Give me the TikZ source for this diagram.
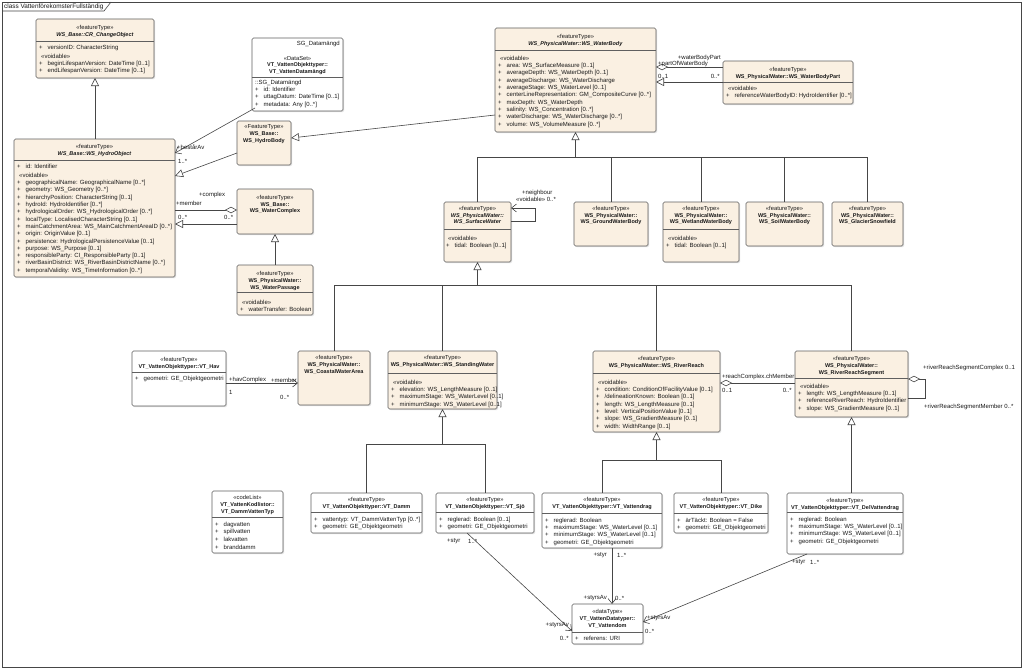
\documentclass[tikz,border=0pt]{standalone}
\usepackage{fontspec}
\setmainfont{Liberation Sans}
\usetikzlibrary{arrows.meta,calc,shadows}
\definecolor{beige}{RGB}{250,240,226}
\definecolor{bordc}{RGB}{95,95,95}
\definecolor{linec}{RGB}{70,70,70}
\definecolor{txtc}{RGB}{25,25,25}
\newcommand\fsz{\fontsize{6pt}{7.3pt}\selectfont}
\newcommand\hfsz{\fontsize{5.8pt}{6.9pt}\selectfont}
\newcommand\bn[1]{{\fontsize{5.5pt}{6.9pt}\selectfont\textbf{#1}}}
\newcommand\bni[1]{{\fontsize{5.5pt}{6.9pt}\selectfont\textbf{\textit{#1}}}}
\newcommand\attrplus{\makebox[8.5pt][l]{+}}
\newcommand\voidl{\hspace*{2pt}«voidable»}
\begin{document}
\begin{tikzpicture}[x=1pt,y=-1pt,
 cls/.style={draw=bordc,line width=0.6pt,rounded corners=1.5pt,inner sep=0pt,outer sep=0pt,anchor=north west,
   drop shadow={shadow xshift=1.2pt,shadow yshift=-1.2pt,fill=black,opacity=0.12}},
 bg/.style={cls,fill=beige},
 wh/.style={cls,fill=white},
 hd/.style={font=\hfsz,align=center,inner sep=0pt,anchor=north,text=txtc},
 atr/.style={font=\fsz,align=left,inner sep=0pt,anchor=north west,text=txtc},
 lb/.style={font=\fsz,inner sep=0pt,text=txtc},
 sepl/.style={draw=bordc,line width=0.6pt},
 conn/.style={draw=linec,line width=0.6pt},
 gen/.style={conn,-{Triangle[open,length=8pt,width=8pt,fill=white]}},
 nav/.style={conn,-{Straight Barb[length=5pt,width=8pt]}},
 agg/.style={conn,{Diamond[open,length=12pt,width=6.5pt,fill=white]}-},
]
\useasboundingbox (0,0) rectangle (1024,669);
\fill[white] (0,0) rectangle (1024,669);
% frame
\draw[conn] (2,2) rectangle (1021,667);
\draw[conn] (2,11) -- (104,11) -- (111,2);
\node[lb,anchor=west,font=\fontsize{6.4pt}{7pt}\selectfont] (title) at (4,6.5) {class VattenförekomsterFullständig};

% CR_ChangeObject
\node[bg,minimum width=118pt,minimum height=59pt] (CR) at (36,19) {};
\node[hd] (CRh) at ($(CR.north)+(0,5.8)$) {«featureType»\\\bni{WS\_Base::CR\_ChangeObject}};
\draw[sepl] ($(CR.north west)+(0,22)$) -- ($(CR.north east)+(0,22)$);
\node[atr] (CRa) at (39,44.8) {\attrplus versionID: CharacterString};
\node[atr] (CRb) at (39,53.8) {\voidl\\\attrplus beginLifespanVersion: DateTime [0..1]\\\attrplus endLifespanVersion: DateTime [0..1]};

% VT_VattenDatamangd
\node[wh,minimum width=91pt,minimum height=73pt] (VDm) at (252,38) {};
\node[atr,anchor=north east] (VDmc) at ($(VDm.north east)+(-3,2.8)$) {SG\_Datamängd};
\node[hd] (VDmh) at ($(VDm.north)+(0,17.8)$) {«DataSet»\\\bn{VT\_VattenObjekttyper::}\\\bn{VT\_VattenDatamängd}};
\draw[sepl] ($(VDm.north west)+(0,39)$) -- ($(VDm.north east)+(0,39)$);
\node[atr] (VDma) at (255,79.8) {::SG\_Datamängd\\\attrplus id: Identifier\\\attrplus uttagDatum: DateTime [0..1]\\\attrplus metadata: Any [0..*]};

% WS_WaterBody
\node[bg,minimum width=161pt,minimum height=104pt] (WB) at (495,28) {};
\node[hd] (WBh) at ($(WB.north)+(0,5.8)$) {«featureType»\\\bni{WS\_PhysicalWater::WS\_WaterBody}};
\draw[sepl] ($(WB.north west)+(0,22)$) -- ($(WB.north east)+(0,22)$);
\node[atr] (WBa) at (498,55.8) {\voidl\\
\attrplus area: WS\_SurfaceMeasure [0..1]\\
\attrplus averageDepth: WS\_WaterDepth [0..1]\\
\attrplus averageDischarge: WS\_WaterDischarge\\
\attrplus averageStage: WS\_WaterLevel [0..1]\\
\attrplus centerLineRepresentation: GM\_CompositeCurve [0..*]\\
\attrplus maxDepth: WS\_WaterDepth\\
\attrplus salinity: WS\_Concentration [0..*]\\
\attrplus waterDischarge: WS\_WaterDischarge [0..*]\\
\attrplus volume: WS\_VolumeMeasure [0..*]};

% WS_WaterBodyPart
\node[bg,minimum width=130pt,minimum height=43pt] (WBP) at (723,61) {};
\node[hd] (WBPh) at ($(WBP.north)+(0,5.8)$) {«featureType»\\\bn{WS\_PhysicalWater::WS\_WaterBodyPart}};
\draw[sepl] ($(WBP.north west)+(0,21)$) -- ($(WBP.north east)+(0,21)$);
\node[atr] (WBPa) at (726,85.8) {\voidl\\\attrplus referenceWaterBodyID: HydroIdentifier [0..*]};

% WS_HydroObject
\node[bg,minimum width=161pt,minimum height=138pt] (HO) at (14,139) {};
\node[hd] (HOh) at ($(HO.north)+(0,4.8)$) {«featureType»\\\bni{WS\_Base::WS\_HydroObject}};
\draw[sepl] ($(HO.north west)+(0,21)$) -- ($(HO.north east)+(0,21)$);
\node[atr] (HOa) at (17,163.8) {\attrplus id: Identifier};
\node[atr] (HOb) at (17,172.8) {\voidl\\
\attrplus geographicalName: GeographicalName [0..*]\\
\attrplus geometry: WS\_Geometry [0..*]\\
\attrplus hierarchyPosition: CharacterString [0..1]\\
\attrplus hydroId: HydroIdentifier [0..*]\\
\attrplus hydrologicalOrder: WS\_HydrologicalOrder [0..*]\\
\attrplus localType: LocalisedCharacterString [0..1]\\
\attrplus mainCatchmentArea: WS\_MainCatchmentAreaID [0..*]\\
\attrplus origin: OriginValue [0..1]\\
\attrplus persistence: HydrologicalPersistenceValue [0..1]\\
\attrplus purpose: WS\_Purpose [0..1]\\
\attrplus responsibleParty: CI\_ResponsibleParty [0..1]\\
\attrplus riverBasinDistrict: WS\_RiverBasinDistrictName [0..*]\\
\attrplus temporalValidity: WS\_TimeInformation [0..*]};

% WS_HydroBody
\node[bg,minimum width=54pt,minimum height=44pt] (HB) at (237,121) {};
\node[hd] (HBh) at ($(HB.north)+(0,3.8)$) {«FeatureType»\\\bn{WS\_Base::}\\\bn{WS\_HydroBody}};

% WS_WaterComplex
\node[bg,minimum width=76pt,minimum height=45pt] (WC) at (237,189) {};
\node[hd] (WCh) at ($(WC.north)+(0,5.8)$) {«featureType»\\\bn{WS\_Base::}\\\bn{WS\_WaterComplex}};

% WS_WaterPassage
\node[bg,minimum width=76pt,minimum height=50pt] (WP) at (237,265) {};
\node[hd] (WPh) at ($(WP.north)+(0,5.8)$) {«featureType»\\\bn{WS\_PhysicalWater::}\\\bn{WS\_WaterPassage}};
\draw[sepl] ($(WP.north west)+(0,27)$) -- ($(WP.north east)+(0,27)$);
\node[atr] (WPa) at (240,299.8) {\voidl\\\attrplus waterTransfer: Boolean};

% WS_SurfaceWater
\node[bg,minimum width=67pt,minimum height=60pt] (SW) at (444,202) {};
\node[hd] (SWh) at ($(SW.north)+(0,3.8)$) {«featureType»\\\bni{WS\_PhysicalWater::}\\\bni{WS\_SurfaceWater}};
\draw[sepl] ($(SW.north west)+(0,27)$) -- ($(SW.north east)+(0,27)$);
\node[atr] (SWa) at (446,235.8) {\voidl\\\attrplus tidal: Boolean [0..1]};

% GroundWaterBody
\node[bg,minimum width=74pt,minimum height=44pt] (GWB) at (574,202) {};
\node[hd] (GWBh) at ($(GWB.north)+(0,3.8)$) {«featureType»\\\bn{WS\_PhysicalWater::}\\\bn{WS\_GroundWaterBody}};

% WetlandWaterBody
\node[bg,minimum width=76pt,minimum height=60pt] (WWB) at (663,202) {};
\node[hd] (WWBh) at ($(WWB.north)+(0,3.8)$) {«featureType»\\\bn{WS\_PhysicalWater::}\\\bn{WS\_WetlandWaterBody}};
\draw[sepl] ($(WWB.north west)+(0,27)$) -- ($(WWB.north east)+(0,27)$);
\node[atr] (WWBa) at (666,235.8) {\voidl\\\attrplus tidal: Boolean [0..1]};

% SoilWaterBody
\node[bg,minimum width=77pt,minimum height=44pt] (SWB) at (746,202) {};
\node[hd] (SWBh) at ($(SWB.north)+(0,3.8)$) {«featureType»\\\bn{WS\_PhysicalWater::}\\\bn{WS\_SoilWaterBody}};

% GlacierSnowfield
\node[bg,minimum width=71pt,minimum height=44pt] (GS) at (832,202) {};
\node[hd] (GSh) at ($(GS.north)+(0,3.8)$) {«featureType»\\\bn{WS\_PhysicalWater::}\\\bn{WS\_GlacierSnowfield}};

% VT_Hav
\node[wh,minimum width=94pt,minimum height=55pt] (Hav) at (132,351) {};
\node[hd] (Havh) at ($(Hav.north)+(0,5.8)$) {«featureType»\\\bn{VT\_VattenObjekttyper::VT\_Hav}};
\draw[sepl] ($(Hav.north west)+(0,21)$) -- ($(Hav.north east)+(0,21)$);
\node[atr] (Hava) at (135,375.8) {\attrplus geometri: GE\_Objektgeometri};

% CoastalWaterArea
\node[bg,minimum width=72pt,minimum height=54pt] (CW) at (298,351) {};
\node[hd] (CWh) at ($(CW.north)+(0,3.8)$) {«featureType»\\\bn{WS\_PhysicalWater::}\\\bn{WS\_CoastalWaterArea}};

% StandingWater
\node[bg,minimum width=109pt,minimum height=58pt] (SWa) at (388,351) {};
\node[hd] (SWah) at ($(SWa.north)+(0,3.8)$) {«featureType»\\\bn{WS\_PhysicalWater::WS\_StandingWater}};
\draw[sepl] ($(SWa.north west)+(0,22)$) -- ($(SWa.north east)+(0,22)$);
\node[atr] (SWaa) at (391,379.8) {\voidl\\
\attrplus elevation: WS\_LengthMeasure [0..1]\\
\attrplus maximumStage: WS\_WaterLevel [0..1]\\
\attrplus minimumStage: WS\_WaterLevel [0..1]};

% RiverReach
\node[bg,minimum width=127pt,minimum height=81pt] (RR) at (593,351) {};
\node[hd] (RRh) at ($(RR.north)+(0,4.8)$) {«featureType»\\\bn{WS\_PhysicalWater::WS\_RiverReach}};
\draw[sepl] ($(RR.north west)+(0,22)$) -- ($(RR.north east)+(0,22)$);
\node[atr] (RRa) at (596,379.8) {\voidl\\
\attrplus condition: ConditionOfFacilityValue [0..1]\\
\attrplus /delineationKnown: Boolean [0..1]\\
\attrplus length: WS\_LengthMeasure [0..1]\\
\attrplus level: VerticalPositionValue [0..1]\\
\attrplus slope: WS\_GradientMeasure [0..1]\\
\attrplus width: WidthRange [0..1]};

% RiverReachSegment
\node[bg,minimum width=113pt,minimum height=66pt] (RRS) at (795,351) {};
\node[hd] (RRSh) at ($(RRS.north)+(0,4.8)$) {«featureType»\\\bn{WS\_PhysicalWater::}\\\bn{WS\_RiverReachSegment}};
\draw[sepl] ($(RRS.north west)+(0,27)$) -- ($(RRS.north east)+(0,27)$);
\node[atr] (RRSa) at (798,383.8) {\voidl\\
\attrplus length: WS\_LengthMeasure [0..1]\\
\attrplus referenceRiverReach: HydroIdentifier\\
\attrplus slope: WS\_GradientMeasure [0..1]};

% CodeList
\node[wh,minimum width=71pt,minimum height=62pt] (CL) at (212,491) {};
\node[hd] (CLh) at ($(CL.north)+(0,3.8)$) {«codeList»\\\bn{VT\_VattenKodlistor::}\\\bn{VT\_DammVattenTyp}};
\draw[sepl] ($(CL.north west)+(0,26)$) -- ($(CL.north east)+(0,26)$);
\node[atr,font=\fontsize{6pt}{7.6pt}\selectfont] (CLa) at (215,521.8) {\attrplus dagvatten\\\attrplus spillvatten\\\attrplus lakvatten\\\attrplus branddamm};

% VT_Damm
\node[wh,minimum width=111pt,minimum height=40pt] (DA) at (311,493) {};
\node[hd] (DAh) at ($(DA.north)+(0,3.8)$) {«featureType»\\\bn{VT\_VattenObjekttyper::VT\_Damm}};
\draw[sepl] ($(DA.north west)+(0,19)$) -- ($(DA.north east)+(0,19)$);
\node[atr] (DAa) at (314,516.8) {\attrplus vattentyp: VT\_DammVattenTyp [0..*]\\\attrplus geometri: GE\_Objektgeometri};

% VT_Sjo
\node[wh,minimum width=98pt,minimum height=40pt] (SJ) at (436,493) {};
\node[hd] (SJh) at ($(SJ.north)+(0,3.8)$) {«featureType»\\\bn{VT\_VattenObjekttyper::VT\_Sjö}};
\draw[sepl] ($(SJ.north west)+(0,19)$) -- ($(SJ.north east)+(0,19)$);
\node[atr] (SJa) at (439,516.8) {\attrplus reglerad: Boolean [0..1]\\\attrplus geometri: GE\_Objektgeometri};

% VT_Vattendrag
\node[wh,minimum width=120pt,minimum height=55pt] (VT) at (542,493) {};
\node[hd] (VTh) at ($(VT.north)+(0,3.8)$) {«featureType»\\\bn{VT\_VattenObjekttyper::VT\_Vattendrag}};
\draw[sepl] ($(VT.north west)+(0,20)$) -- ($(VT.north east)+(0,20)$);
\node[atr] (VTa) at (545,517.8) {\attrplus reglerad: Boolean\\
\attrplus maximumStage: WS\_WaterLevel [0..1]\\
\attrplus minimumStage: WS\_WaterLevel [0..1]\\
\attrplus geometri: GE\_Objektgeometri};

% VT_Dike
\node[wh,minimum width=94pt,minimum height=40pt] (DI) at (674,493) {};
\node[hd] (DIh) at ($(DI.north)+(0,3.8)$) {«featureType»\\\bn{VT\_VattenObjekttyper::VT\_Dike}};
\draw[sepl] ($(DI.north west)+(0,20)$) -- ($(DI.north east)+(0,20)$);
\node[atr] (DIa) at (677,517.8) {\attrplus ärTäckt: Boolean = False\\\attrplus geometri: GE\_Objektgeometri};

% VT_DelVattendrag
\node[wh,minimum width=116pt,minimum height=61pt] (DV) at (787,493) {};
\node[hd] (DVh) at ($(DV.north)+(0,4.8)$) {«featureType»\\\bn{VT\_VattenObjekttyper::VT\_DelVattendrag}};
\draw[sepl] ($(DV.north west)+(0,19)$) -- ($(DV.north east)+(0,19)$);
\node[atr] (DVa) at (790,516.8) {\attrplus reglerad: Boolean\\
\attrplus maximumStage: WS\_WaterLevel [0..1]\\
\attrplus minimumStage: WS\_WaterLevel [0..1]\\
\attrplus geometri: GE\_Objektgeometri};

% VT_Vattendom
\node[wh,minimum width=71pt,minimum height=40pt] (VDom) at (572,604) {};
\node[hd] (VDomh) at ($(VDom.north)+(0,4.8)$) {«dataType»\\\bn{VT\_VattenDatatyper::}\\\bn{VT\_Vattendom}};
\draw[sepl] ($(VDom.north west)+(0,28)$) -- ($(VDom.north east)+(0,28)$);
\node[atr] (VDoma) at (575,635.8) {\attrplus referens: URI};

% ---------- connectors ----------
\draw[gen] (CR.south |- HO.north) -- (CR.south);
\draw[nav] ($(VDm.south west)+(3,-3)$) -- ($(HO.north east)+(0,14)$);
\draw[gen] ($(HB.north west)+(0,32)$) -- ($(HO.north east)+(0,37)$);
\draw[gen] ($(WB.north west)+(0,87)$) -- ($(HB.north east)+(0,17)$);
\draw[agg] ($(WC.north west)+(0,21)$) -- ($(HO.north east)+(0,71)$);
\draw[gen] ($(WC.north west)+(0,35)$) -- ($(HO.north east)+(0,85)$);
\draw[gen] (WC.south |- WP.north) -- (WC.south);
\draw[agg] ($(WB.north east)+(0,39)$) -- ($(WBP.north west)+(0,6)$);
\draw[gen] ($(WBP.north west)+(0,21)$) -- ($(WB.north east)+(0,54)$);

\coordinate (b1) at (575.5,157);
\draw[gen] (b1) -- (WB.south);
\draw[conn] (SW.north |- b1) -- (GS.north |- b1);
\draw[conn] (SW.north |- b1) -- (SW.north);
\draw[conn] (GWB.north |- b1) -- (GWB.north);
\draw[conn] (WWB.north |- b1) -- (WWB.north);
\draw[conn] (SWB.north |- b1) -- (SWB.north);
\draw[conn] (GS.north |- b1) -- (GS.north);

\draw[nav] ($(SW.north east)+(0,19)$) -- ++(24,0) -- ++(0,-13) -- ($(SW.north east)+(0,6)$);

\coordinate (b2) at (477.5,285);
\draw[gen] (b2) -- (SW.south);
\draw[conn] (CW.north |- b2) -- (RRS.north |- b2);
\draw[conn] (CW.north |- b2) -- (CW.north);
\draw[conn] (SWa.north |- b2) -- (SWa.north);
\draw[conn] (RR.north |- b2) -- (RR.north);
\draw[conn] (RRS.north |- b2) -- (RRS.north);

\draw[nav] ($(Hav.north east)+(0,32)$) -- ($(CW.north west)+(0,32)$);
\draw[agg] ($(RR.north east)+(0,32)$) -- ($(RRS.north west)+(0,32)$);
\draw[agg] ($(RRS.north east)+(0,28)$) -- ++(17,0) -- ++(0,19) -- ($(RRS.north east)+(0,47)$);

\coordinate (b3) at (442.5,444);
\draw[gen] (b3) -- (SWa.south);
\draw[conn] (DA.north |- b3) -- (SJ.north |- b3);
\draw[conn] (DA.north |- b3) -- (DA.north);
\draw[conn] (SJ.north |- b3) -- (SJ.north);

\coordinate (b4) at (656.5,460);
\draw[gen] (b4) -- (RR.south);
\draw[conn] (VT.north |- b4) -- (DI.north |- b4);
\draw[conn] (VT.north |- b4) -- (VT.north);
\draw[conn] (DI.north |- b4) -- (DI.north);

\draw[gen] (RRS.south |- DV.north) -- (RRS.south);

\draw[nav] ($(VT.south)+(10,0)$) -- ($(VDom.north)+(4.5,0)$);
\draw[nav] ($(SJ.south west)+(31,0)$) -- ($(VDom.north west)+(0,27)$);
\draw[nav] ($(DV.south west)+(20,0)$) -- ($(VDom.north east)+(0,18)$);

% ---------- labels ----------
\node[lb,anchor=west] (L1) at (177,147) {+bestårAv};
\node[lb,anchor=west] (L2) at (178,161) {1..*};
\node[lb,anchor=west] (L3) at (199,195) {+complex};
\node[lb,anchor=west] (L4) at (176,203) {+member};
\node[lb,anchor=west] (L5) at (178,217) {0..*};
\node[lb,anchor=west] (L6) at (224,217) {0..*};
\node[lb,anchor=east] (L7) at (721,58) {+waterBodyPart};
\node[lb,anchor=west] (L8) at (658,64) {+partOfWaterBody};
\node[lb,anchor=west] (L9) at (658,76) {0..1};
\node[lb,anchor=east] (L10) at (720,76) {0..*};
\node[lb,anchor=west] (L11) at (522,193) {+neighbour};
\node[lb,anchor=west] (L12) at (516,199.5) {«voidable» 0..*};
\node[lb,anchor=west] (L13) at (229,380) {+havComplex};
\node[lb,anchor=west] (L14) at (271,380) {+member};
\node[lb,anchor=west] (L15) at (229,392) {1};
\node[lb,anchor=west] (L16) at (280,397) {0..*};
\node[lb,anchor=west] (L17) at (722,377) {+reachComplex.chMember};
\node[lb,anchor=west] (L19) at (722,390) {0..1};
\node[lb,anchor=east] (L20) at (792,390) {0..*};
\node[lb,anchor=west] (L21) at (923,368) {+riverReachSegmentComplex 0..1};
\node[lb,anchor=west] (L22) at (924,407) {+riverReachSegmentMember 0..*};
\node[lb,anchor=west] (L23) at (447,541) {+styr};
\node[lb,anchor=west] (L24) at (468,541) {1..*};
\node[lb,anchor=east] (L25) at (569,625) {+styrsAv};
\node[lb,anchor=east] (L26) at (569,638) {0..*};
\node[lb,anchor=east] (L27) at (607,555) {+styr};
\node[lb,anchor=west] (L28) at (617,555) {1..*};
\node[lb,anchor=east] (L29) at (607,598) {+styrsAv};
\node[lb,anchor=west] (L30) at (615,598) {0..*};
\node[lb,anchor=west] (L31) at (792,562) {+styr};
\node[lb,anchor=west] (L32) at (810,562) {1..*};
\node[lb,anchor=west] (L33) at (647,618) {+styrsAv};
\node[lb,anchor=west] (L34) at (645,631) {0..*};
\end{tikzpicture}
\end{document}
